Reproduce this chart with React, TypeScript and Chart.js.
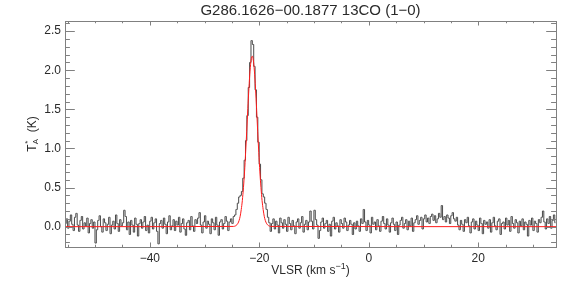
import React, { useEffect, useRef } from "react";
import { Chart, registerables } from "chart.js";

Chart.register(...registerables);

// Spectrum channels: velocity grid (km/s) and antenna temperature (K)
const velStart = -55.4;
const velStep = 0.25;
const taValues = [
  0.04, 0.10, -0.02, 0.07, 0.15, 0.03, -0.05, 0.12, 0.17, 0.02,
  -0.06, 0.08, 0.13, -0.03, 0.05, 0.01, 0.11, -0.08, 0.04, 0.09,
  -0.02, 0.06, -0.21, -0.04, 0.08, 0.14, 0.00, -0.07, 0.10, 0.05,
  -0.05, 0.03, 0.12, -0.09, 0.02, 0.07, -0.03, 0.15, 0.04, -0.06,
  0.09, 0.01, 0.05, 0.21, 0.13, -0.04, 0.06, -0.10, 0.08, 0.02,
  -0.07, 0.11, 0.03, -0.12, 0.04, 0.09, -0.02, 0.06, 0.13, -0.05,
  0.02, -0.08, 0.07, 0.12, -0.03, 0.05, 0.10, -0.06, -0.22, 0.04,
  0.08, -0.02, 0.11, 0.03, -0.09, 0.06, 0.14, -0.04, 0.01, 0.09,
  -0.05, 0.07, 0.02, 0.12, -0.07, 0.04, 0.10, -0.03, -0.11, 0.05,
  0.08, -0.04, 0.13, 0.01, -0.06, 0.09, 0.04, 0.11, 0.18, 0.02,
  -0.08, 0.06, 0.14, -0.02, 0.07, 0.03, -0.09, 0.10, 0.05, -0.04,
  0.12, 0.02, -0.11, 0.06, 0.09, -0.03, 0.04, 0.13, 0.07, -0.05,
  0.06, 0.10, 0.04, 0.13, 0.15, 0.22, 0.30, 0.38, 0.40, 0.45,
  0.62, 0.85, 1.10, 1.42, 1.78, 2.10, 2.38, 2.33, 2.05, 1.75,
  1.40, 1.08, 0.80, 0.60, 0.42, 0.38, 0.30, 0.22, 0.12, 0.05,
  -0.06, 0.04, 0.10, -0.03, 0.07, 0.02, -0.08, 0.11, 0.05, -0.02,
  0.09, 0.03, -0.06, 0.12, 0.04, -0.04, 0.08, 0.01, -0.09, 0.06,
  0.10, -0.02, 0.05, 0.13, -0.07, 0.03, 0.08, -0.04, 0.06, 0.20,
  0.07, -0.03, 0.21, 0.09, 0.02, -0.15, -0.05, 0.06, 0.11, -0.02,
  0.04, 0.08, -0.06, 0.03, -0.12, 0.07, 0.12, -0.03, 0.05, 0.01,
  -0.07, 0.09, 0.04, -0.02, 0.11, 0.06, -0.05, 0.02, 0.08, 0.03,
  -0.10, 0.05, -0.03, 0.07, 0.01, -0.06, 0.10, 0.04, 0.22, 0.06,
  -0.05, 0.08, 0.02, -0.08, 0.12, 0.03, 0.06, -0.04, 0.09, 0.01,
  -0.06, 0.07, 0.13, 0.04, -0.03, 0.10, 0.02, -0.07, 0.05, 0.11,
  0.03, -0.05, 0.06, -0.10, 0.02, 0.08, 0.12, -0.02, 0.04, 0.09,
  -0.04, 0.07, 0.01, 0.11, -0.06, 0.05, 0.09, 0.14, 0.03, 0.08,
  0.12, -0.03, 0.10, 0.15, 0.06, 0.11, 0.04, 0.13, 0.16, 0.08,
  0.14, 0.05, 0.10, 0.17, 0.12, 0.27, 0.09, 0.13, 0.06, 0.15,
  0.11, 0.04, 0.14, 0.18, 0.10, 0.07, 0.12, 0.02, -0.04, 0.08,
  0.03, -0.06, 0.09, 0.05, 0.12, 0.01, -0.08, 0.06, 0.10, -0.03,
  0.07, 0.02, -0.05, 0.11, 0.04, -0.09, 0.08, 0.03, 0.06, -0.02,
  0.09, -0.07, 0.05, 0.12, 0.01, -0.04, 0.07, 0.10, -0.10, 0.04,
  0.06, -0.03, 0.11, 0.02, 0.08, -0.06, 0.13, 0.04, -0.02, 0.09,
  0.05, -0.08, 0.07, 0.01, 0.10, -0.04, 0.06, 0.03, -0.12, 0.08,
  0.02, 0.11, -0.05, 0.07, 0.04, -0.07, 0.09, 0.05, 0.12, 0.20,
  0.06, -0.03, 0.10, 0.04, 0.13, -0.02, 0.08, 0.15, 0.05,
];

// Gaussian fit curve (red)
const fitVel = [
  -55.5,
  -24.7, -24.5, -24.3, -24.1, -23.9, -23.7, -23.5, -23.3, -23.1, -22.9,
  -22.7, -22.5, -22.3, -22.1, -21.9, -21.7, -21.5, -21.3, -21.1, -20.9,
  -20.7, -20.5, -20.3, -20.1, -19.9, -19.7, -19.5, -19.3, -19.1, -18.9,
  -18.7, -18.5, -18.3, -18.1, -17.9,
  34.2,
];
const fitTa = [
  0,
  0.003, 0.006, 0.012, 0.024, 0.044, 0.078, 0.133, 0.22, 0.335, 0.5,
  0.7, 0.95, 1.22, 1.51, 1.77, 1.99, 2.13, 2.18, 2.13, 1.99,
  1.77, 1.51, 1.22, 0.95, 0.7, 0.5, 0.335, 0.22, 0.133, 0.078,
  0.044, 0.024, 0.012, 0.006, 0.003,
  0,
];

const xMajorTicks = [-40, -20, 0, 20];
const xMinorTicks = [-55, -50, -45, -35, -30, -25, -15, -10, -5, 5, 10, 15, 25, 30];
const yMajorTicks = [0, 0.5, 1.0, 1.5, 2.0, 2.5];
const yMinorTicks = [
  -0.2, -0.1, 0.1, 0.2, 0.3, 0.4, 0.6, 0.7, 0.8, 0.9, 1.1, 1.2, 1.3, 1.4,
  1.6, 1.7, 1.8, 1.9, 2.1, 2.2, 2.3, 2.4, 2.6,
];

const titleText = "G286.1626\u221200.1877 13CO (1\u22120)";
const FONT = "'Liberation Sans', Arial, sans-serif";
const TEXT_COLOR = "#2a2a2a";
const FRAME_COLOR = "#808080";

const framePlugin = {
  id: "idlFrame",
  afterDraw(chart: any) {
    const { ctx, chartArea } = chart;
    const { left, right, top, bottom } = chartArea;
    const xs = chart.scales.x;
    const ys = chart.scales.y;
    ctx.save();
    ctx.strokeStyle = FRAME_COLOR;
    ctx.lineWidth = 1;
    ctx.strokeRect(Math.round(left) + 0.5, Math.round(top) + 0.5, Math.round(right - left), Math.round(bottom - top));
    const xMaj = 0.02 * (bottom - top);
    const yMaj = 0.02 * (right - left);
    ctx.beginPath();
    const xt = (v: number, len: number) => {
      const p = Math.round(xs.getPixelForValue(v)) + 0.5;
      ctx.moveTo(p, bottom);
      ctx.lineTo(p, bottom - len);
      ctx.moveTo(p, top);
      ctx.lineTo(p, top + len);
    };
    const yt = (v: number, len: number) => {
      const p = Math.round(ys.getPixelForValue(v)) + 0.5;
      ctx.moveTo(left, p);
      ctx.lineTo(left + len, p);
      ctx.moveTo(right, p);
      ctx.lineTo(right - len, p);
    };
    xMajorTicks.forEach((v) => xt(v, xMaj));
    xMinorTicks.forEach((v) => xt(v, xMaj / 2));
    yMajorTicks.forEach((v) => yt(v, yMaj));
    yMinorTicks.forEach((v) => yt(v, yMaj / 2));
    ctx.stroke();

    // Title
    ctx.fillStyle = TEXT_COLOR;
    ctx.textBaseline = "middle";
    ctx.textAlign = "center";
    ctx.font = `15px ${FONT}`;
    const cx = (left + right) / 2;
    ctx.fillText(titleText, cx, 11);

    // X axis title: VLSR (km s^-1)
    ctx.textAlign = "left";
    ctx.font = `12px ${FONT}`;
    const a = "VLSR (km s";
    const b = "\u22121";
    const c = ")";
    const wa = ctx.measureText(a).width;
    const wc = ctx.measureText(c).width;
    ctx.font = `9px ${FONT}`;
    const wb = ctx.measureText(b).width;
    const total = wa + wb + wc;
    const x0 = cx - total / 2;
    const ty = 271;
    ctx.font = `12px ${FONT}`;
    ctx.fillText(a, x0, ty);
    ctx.font = `9px ${FONT}`;
    ctx.fillText(b, x0 + wa, ty - 4);
    ctx.font = `12px ${FONT}`;
    ctx.fillText(c, x0 + wa + wb, ty);

    // Y axis title: T*_A (K)
    ctx.translate(33, 134);
    ctx.rotate(-Math.PI / 2);
    ctx.font = `12px ${FONT}`;
    const t1 = "T";
    const t3 = "  (K)";
    const w1 = ctx.measureText(t1).width;
    const w3 = ctx.measureText(t3).width;
    ctx.font = `8px ${FONT}`;
    const w2 = ctx.measureText("A").width;
    const tot = w1 + w2 + w3;
    const y0 = -tot / 2;
    ctx.font = `12px ${FONT}`;
    ctx.fillText(t1, y0, 0);
    ctx.font = `8px ${FONT}`;
    ctx.fillText("A", y0 + w1, 3);
    ctx.fillText("*", y0 + w1 + 0.5, -5);
    ctx.font = `12px ${FONT}`;
    ctx.fillText(t3, y0 + w1 + w2, 0);
    ctx.restore();
  },
};

export default function App() {
  const canvasRef = useRef<HTMLCanvasElement | null>(null);

  useEffect(() => {
    document.body.style.margin = "0";
    const canvas = canvasRef.current;
    if (!canvas) return;
    const specData = taValues.map((t, i) => ({ x: velStart + i * velStep, y: t }));
    const fitData = fitVel.map((v, i) => ({ x: v, y: fitTa[i] }));
    const chart = new Chart(canvas, {
      type: "line",
      data: {
        datasets: [
          {
            label: "fit",
            data: fitData,
            borderColor: "#ff1a1a",
            borderWidth: 1,
            pointRadius: 0,
            cubicInterpolationMode: "monotone",
          },
          {
            label: "spectrum",
            data: specData,
            borderColor: "#4a4a4a",
            borderWidth: 1,
            pointRadius: 0,
            stepped: "middle",
          },
        ],
      },
      options: {
        animation: false,
        responsive: false,
        maintainAspectRatio: false,
        devicePixelRatio: 1,
        layout: { padding: { top: 21, right: 20, left: 0, bottom: 0 } },
        plugins: {
          legend: { display: false },
          tooltip: { enabled: false },
          title: { display: false },
        },
        scales: {
          x: {
            type: "linear",
            min: -55.5,
            max: 34.2,
            grid: { display: false, drawTicks: false },
            border: { display: false },
            afterBuildTicks: (s: any) => {
              s.ticks = xMajorTicks.map((v) => ({ value: v }));
            },
            afterFit: (s: any) => {
              s.height = 41;
            },
            ticks: {
              color: TEXT_COLOR,
              font: { family: FONT, size: 12 },
              padding: 4,
              autoSkip: false,
              maxRotation: 0,
              callback: (v: any) => (Number(v) < 0 ? "\u2212" + Math.abs(Number(v)) : String(v)),
            },
          },
          y: {
            type: "linear",
            min: -0.26,
            max: 2.63,
            grid: { display: false, drawTicks: false },
            border: { display: false },
            afterBuildTicks: (s: any) => {
              s.ticks = yMajorTicks.map((v) => ({ value: v }));
            },
            afterFit: (s: any) => {
              s.width = 65;
            },
            ticks: {
              color: TEXT_COLOR,
              font: { family: FONT, size: 12 },
              padding: 4,
              autoSkip: false,
              callback: (v: any) => Number(v).toFixed(1),
            },
          },
        },
      },
      plugins: [framePlugin],
    });
    return () => chart.destroy();
  }, []);

  return (
    <div style={{ width: 576, height: 288, background: "#fff" }}>
      <canvas ref={canvasRef} width={576} height={288} style={{ display: "block" }} />
    </div>
  );
}
